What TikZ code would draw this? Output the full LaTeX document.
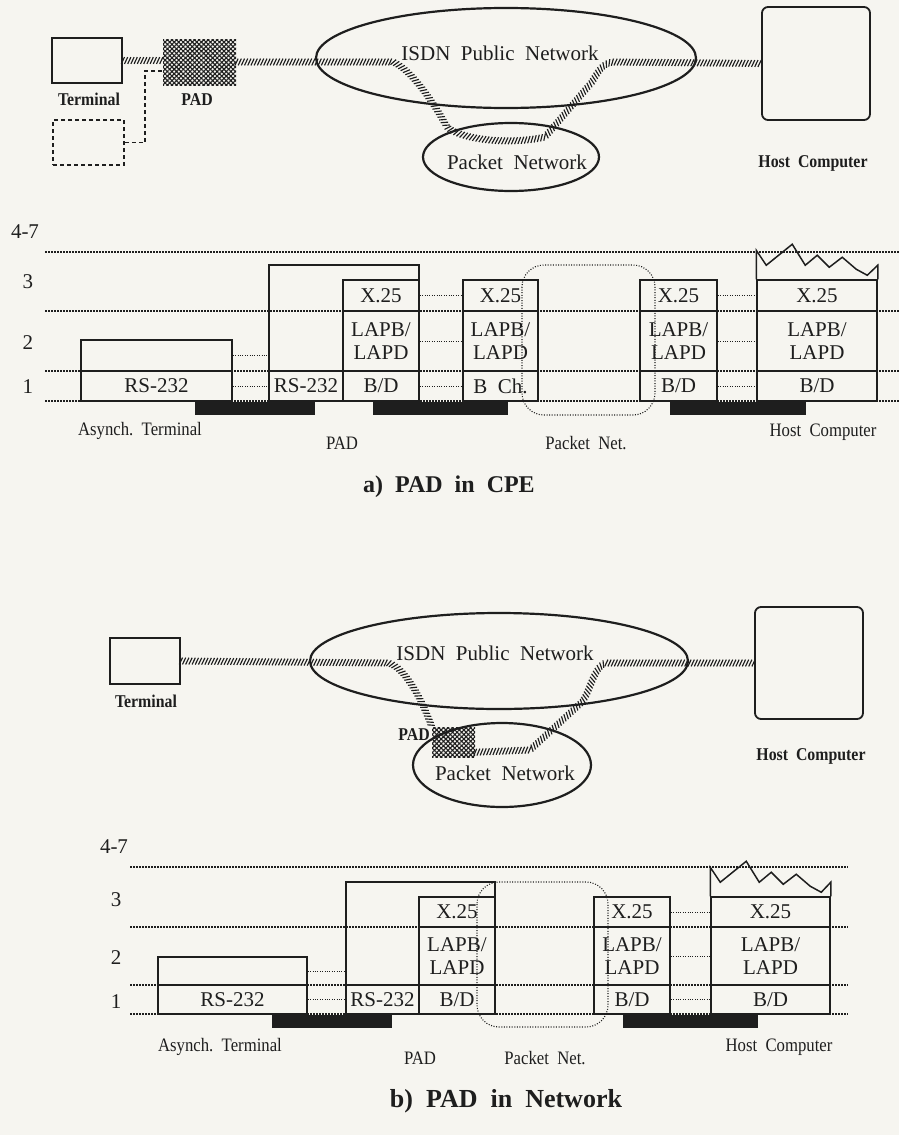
\documentclass[tikz,border=0pt]{standalone}
\usepackage{fontspec}
\setmainfont{Liberation Serif}
\newfontfamily\condfont[FakeStretch=0.88]{Liberation Serif}
\usetikzlibrary{shapes.geometric,patterns.meta,decorations.markings}
\definecolor{ink}{RGB}{30,30,30}
\definecolor{paper}{RGB}{246,245,240}
\tikzset{
  cell/.style={draw=ink, line width=1.5pt, inner sep=0pt, align=center, text=ink,
    font=\fontsize{21}{23}\selectfont},
  netbox/.style={draw=ink, line width=1.8pt, inner sep=0pt},
  hostbox/.style={draw=ink, line width=1.8pt, inner sep=0pt, rounded corners=6pt},
  padbox/.style={inner sep=0pt, fill=ink!30, pattern color=ink,
    pattern={Hatch[angle=45,distance=3.2pt,line width=1.1pt]}},
  netell/.style={draw=ink, line width=2.2pt, ellipse, inner sep=0pt},
  netlabel/.style={text=ink, font=\fontsize{21}{23}\selectfont, inner sep=0pt},
  boldlabel/.style={text=ink, font=\condfont\bfseries\fontsize{18}{20}\selectfont, inner sep=0pt},
  steplabel/.style={text=ink, font=\fontsize{21}{23}\selectfont, inner sep=0pt},
  underlabel/.style={text=ink, font=\condfont\fontsize{19}{21}\selectfont, inner sep=0pt},
  caption/.style={text=ink, font=\bfseries\fontsize{24}{26}\selectfont, inner sep=0pt},
  layerline/.style={draw=ink, line width=1.2pt, dash pattern=on 2pt off 1pt},
  conn/.style={draw=ink, line width=1pt, dash pattern=on 1pt off 1.4pt},
  dashconn/.style={draw=ink, line width=1.6pt, dash pattern=on 4pt off 3pt},
  netcloud/.style={draw=ink, line width=1.1pt, dash pattern=on 1pt off 1.6pt, rounded corners=22pt},
  boxline/.style={draw=ink, line width=1.5pt, line join=miter},
  hatch/.style={postaction={decorate, decoration={markings,
    mark=between positions 0 and 1 step 3.2pt with {\draw[ink, line width=1.15pt] (-1.6pt,-3.4pt) -- (1.6pt,3.4pt);}}}},
}
\newcommand\cell[6]{%
  \pgfmathsetmacro\cellw{#4-#2}\pgfmathsetmacro\cellh{#5-#3}%
  \node[cell, minimum width=\cellw pt, minimum height=\cellh pt] (#1) at ({(#2+#4)/2},{(#3+#5)/2}) {#6};}
\begin{document}
\begin{tikzpicture}[x=1pt,y=-1pt]
\fill[paper] (0,0) rectangle (899,1135);
\useasboundingbox (0,0) rectangle (899,1135);

% ================= a) network =================
\node[netbox, minimum width=70pt, minimum height=45pt] (termA) at (87,60.5) {};
\node[netbox, dashed, dash pattern=on 4pt off 3pt, minimum width=71pt, minimum height=45pt] (dashA) at (88.5,142.5) {};
\node[padbox, minimum width=73pt, minimum height=46pt] (padA) at (199.5,62) {};
\node[netell, minimum width=380pt, minimum height=100pt] (isdnA) at (506,58) {};
\node[netell, minimum width=176pt, minimum height=68pt] (pnA) at (511,157) {};
\node[hostbox, minimum width=108pt, minimum height=113pt] (hostA) at (816,63.5) {};
\node[netlabel] (isdnAt) at (500,53) {ISDN\ \ Public\ \ Network};
\node[netlabel] (pnAt) at (517,162) {Packet\ \ Network};
\node[boldlabel] (termAl) at (89,99) {Terminal};
\node[boldlabel] (padAl) at (197,100) {PAD};
\node[boldlabel] (hostAl) at (813,163) {Host\ \ Computer};
\coordinate (dkA) at (145,71);
\draw[dashconn] (dashA.east) -| (dkA) -- (dkA -| padA.west);
\path[hatch] (termA.east) -- (termA.east -| padA.west);
\path[hatch] (padA.east) -- (393,62) .. controls (412,70) and (435,105) .. (447,127)
  .. controls (462,140) and (510,145) .. (545,137)
  -- (592,82) .. controls (598,72) and (602,63) .. (614,62) -- (hostA.west);

% ================= a) stack =================
\foreach \yy in {252,311,371,401} \draw[layerline] (45,\yy) -- (899,\yy);
\node[steplabel] (aL4) at (25,232) {4-7};
\node[steplabel] (aL3) at (28,282) {3};
\node[steplabel] (aL2) at (28,343) {2};
\node[steplabel] (aL1) at (28,387) {1};
\fill[ink] (195,402) rectangle (315,415);
\fill[ink] (373,402) rectangle (508,415);
\fill[ink] (670,402) rectangle (806,415);
\cell{aTu}{81}{340}{232}{371}{}
\cell{aTr}{81}{371}{232}{401}{RS-232}
\cell{aPo}{269}{265}{419}{401}{}
\cell{aPr}{269}{371}{343}{401}{RS-232}
\cell{aPx}{343}{280}{419}{311}{X.25}
\cell{aPl}{343}{311}{419}{371}{LAPB/\\LAPD}
\cell{aPb}{343}{371}{419}{401}{B/D}
\cell{aNx}{463}{280}{538}{311}{X.25}
\cell{aNl}{463}{311}{538}{371}{LAPB/\\LAPD}
\cell{aNb}{463}{371}{538}{401}{B\ \ Ch.}
\cell{aMx}{640}{280}{717}{311}{X.25}
\cell{aMl}{640}{311}{717}{371}{LAPB/\\LAPD}
\cell{aMb}{640}{371}{717}{401}{B/D}
\cell{aHx}{757}{280}{877}{311}{X.25}
\cell{aHl}{757}{311}{877}{371}{LAPB/\\LAPD}
\cell{aHb}{757}{371}{877}{401}{B/D}
\begin{scope}[shift={(aHx.north west)}]
\draw[boxline] (0,0) -- (0,-29) -- (10,-14) -- (36,-35) -- (49,-14) -- (61,-24) -- (73,-12)
  -- (86,-22) -- (100,-10) -- (111,-4) -- ([yshift=14pt]aHx.north east) -- (aHx.north east);
\end{scope}
\draw[netcloud] (522,265) rectangle (655,415);
\draw[conn] (aTu.east) -- (aTu.east -| aPo.west);
\draw[conn] (aTr.east) -- (aPr.west);
\draw[conn] (aPx.east) -- (aNx.west);
\draw[conn] (aPl.east) -- (aNl.west);
\draw[conn] (aPb.east) -- (aNb.west);
\draw[conn] (aMx.east) -- (aHx.west);
\draw[conn] (aMl.east) -- (aHl.west);
\draw[conn] (aMb.east) -- (aHb.west);
\node[underlabel] (aU1) at (140,431) {Asynch.\ \ Terminal};
\node[underlabel] (aU2) at (342,443) {PAD};
\node[underlabel] (aU3) at (586,443) {Packet\ \ Net.};
\node[underlabel] (aU4) at (823,432) {Host\ \ Computer};
\node[caption] (capA) at (449,487) {a)\ \ PAD\ \ in\ \ CPE};

% ================= b) network =================
\node[netbox, minimum width=70pt, minimum height=46pt] (termB) at (145,661) {};
\node[netell, minimum width=378pt, minimum height=96pt] (isdnB) at (499,661) {};
\node[netell, minimum width=178pt, minimum height=84pt] (pnB) at (502,765) {};
\node[padbox, minimum width=43pt, minimum height=30pt] (padB) at (453.5,742) {};
\node[hostbox, minimum width=108pt, minimum height=112pt] (hostB) at (809,663) {};
\node[netlabel] (isdnBt) at (495,653) {ISDN\ \ Public\ \ Network};
\node[netlabel] (pnBt) at (505,773) {Packet\ \ Network};
\node[boldlabel] (termBl) at (146,701) {Terminal};
\node[boldlabel, anchor=east] (padBl) at (430,735) {PAD};
\node[boldlabel] (hostBl) at (811,756) {Host\ \ Computer};
\path[hatch] (termB.east) -- (388,663) .. controls (405,667) and (422,700) .. (padB.north west);
\path[hatch] ([yshift=5pt]padB.south east) -- (530,750) -- (582,702)
  .. controls (590,692) and (594,666) .. (606,663) -- (hostB.west);

% ================= b) stack =================
\foreach \yy in {867,927,985,1014} \draw[layerline] (130,\yy) -- (848,\yy);
\node[steplabel] (bL4) at (114,847) {4-7};
\node[steplabel] (bL3) at (116,900) {3};
\node[steplabel] (bL2) at (116,958) {2};
\node[steplabel] (bL1) at (116,1002) {1};
\fill[ink] (272,1015) rectangle (392,1028);
\fill[ink] (623,1015) rectangle (758,1028);
\cell{bTu}{158}{957}{307}{985}{}
\cell{bTr}{158}{985}{307}{1014}{RS-232}
\cell{bPo}{346}{882}{495}{1014}{}
\cell{bPr}{346}{985}{419}{1014}{RS-232}
\cell{bPx}{419}{897}{495}{927}{X.25}
\cell{bPl}{419}{927}{495}{985}{LAPB/\\LAPD}
\cell{bPb}{419}{985}{495}{1014}{B/D}
\cell{bMx}{594}{897}{670}{927}{X.25}
\cell{bMl}{594}{927}{670}{985}{LAPB/\\LAPD}
\cell{bMb}{594}{985}{670}{1014}{B/D}
\cell{bHx}{711}{897}{830}{927}{X.25}
\cell{bHl}{711}{927}{830}{985}{LAPB/\\LAPD}
\cell{bHb}{711}{985}{830}{1014}{B/D}
\begin{scope}[shift={(bHx.north west)}]
\draw[boxline] (0,0) -- (0,-29) -- (10,-14) -- (36,-35) -- (49,-14) -- (61,-24) -- (73,-12)
  -- (86,-22) -- (100,-10) -- (111,-4) -- ([yshift=14pt]bHx.north east) -- (bHx.north east);
\end{scope}
\draw[netcloud] (477,882) rectangle (608,1027);
\draw[conn] (bTu.east) -- (bTu.east -| bPo.west);
\draw[conn] (bTr.east) -- (bPr.west);
\draw[conn] (bMx.east) -- (bHx.west);
\draw[conn] (bMl.east) -- (bHl.west);
\draw[conn] (bMb.east) -- (bHb.west);
\node[underlabel] (bU1) at (220,1047) {Asynch.\ \ Terminal};
\node[underlabel] (bU2) at (420,1058) {PAD};
\node[underlabel] (bU3) at (545,1058) {Packet\ \ Net.};
\node[underlabel] (bU4) at (779,1047) {Host\ \ Computer};
\node[caption, font=\bfseries\fontsize{26}{28}\selectfont] (capB) at (506,1101) {b)\ \ PAD\ \ in\ \ Network};
\end{tikzpicture}
\end{document}
